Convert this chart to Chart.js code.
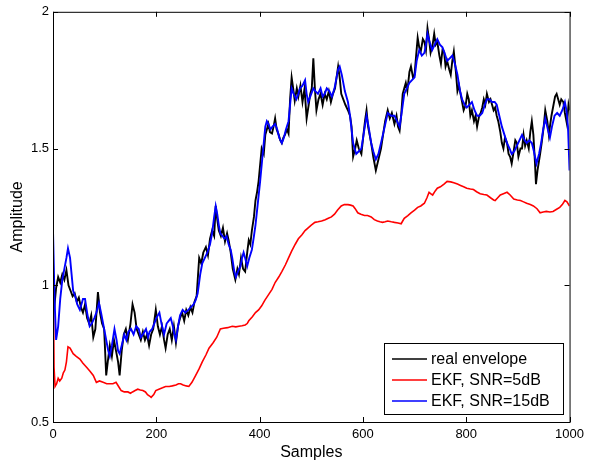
<!DOCTYPE html>
<html>
<head>
<meta charset="utf-8">
<script src="https://cdn.jsdelivr.net/npm/chart.js@4"></script>
<style>
  html,body{margin:0;padding:0;background:#fff;}
  #c{display:block;}
</style>
</head>
<body>
<canvas id="c" width="589" height="464"></canvas>
<script>
'use strict';
/* EKF envelope tracking — amplitude vs samples */

/* ── data ── */
const xTicks = [0, 200, 400, 600, 800, 1000];
const yTicks = [0.5, 1, 1.5, 2];
const labels = ['real envelope', 'EKF, SNR=5dB', 'EKF, SNR=15dB'];

const blackX = [0,3,6,10,14,18,22,26,30,34,38,42,46,50,54,58,62,66,70,74,78,82,87,91,95,99,103,106,110,114,118,122,126,129,133,137,141,145,150,154,158,162,166,170,174,178,182,186,190,194,199,203,207,211,215,218,222,226,230,234,238,242,246,250,254,258,262,266,270,274,278,283,287,291,296,300,304,308,312,315,318,321,325,329,333,337,340,344,348,353,357,360,364,368,372,376,379,382,385,389,392,395,398,401,404,408,411,414,417,420,424,427,430,433,437,440,443,446,449,453,456,459,462,465,468,472,475,479,483,487,491,495,498,501,504,507,510,514,518,522,526,530,534,538,542,546,549,552,555,558,562,566,571,575,578,581,585,588,592,597,601,604,607,610,613,616,620,625,630,635,639,643,648,652,656,661,665,668,671,674,677,680,683,686,690,693,697,700,703,706,709,712,716,719,722,725,728,731,735,738,741,744,748,751,754,757,760,763,767,770,773,776,780,783,786,789,792,795,799,802,805,808,811,815,818,821,825,828,831,834,837,840,844,847,850,853,856,859,862,866,869,872,875,879,882,885,888,891,895,898,901,905,908,911,914,917,921,924,927,930,933,935,938,943,946,950,953,957,960,962,965,969,972,975,978,981,984,988,991,995,998,1000];
const blackY = [0.95,0.93,0.99,1.03,1.01,1.04,1.02,1.055,1.0,0.98,0.96,0.97,0.94,0.955,0.92,0.90,0.93,0.88,0.86,0.89,0.81,0.84,0.975,0.90,0.86,0.84,0.67,0.72,0.78,0.74,0.80,0.76,0.72,0.67,0.76,0.82,0.84,0.80,0.86,0.93,0.90,0.84,0.82,0.80,0.83,0.80,0.82,0.78,0.82,0.84,0.91,0.85,0.82,0.85,0.80,0.77,0.82,0.84,0.80,0.85,0.79,0.85,0.88,0.90,0.87,0.91,0.89,0.92,0.90,0.94,0.96,1.10,1.08,1.12,1.14,1.11,1.17,1.20,1.18,1.29,1.24,1.20,1.18,1.21,1.16,1.19,1.165,1.12,1.06,1.02,1.06,1.04,1.10,1.06,1.05,1.12,1.165,1.15,1.20,1.25,1.31,1.34,1.38,1.44,1.50,1.48,1.55,1.57,1.59,1.56,1.555,1.58,1.61,1.57,1.55,1.53,1.52,1.54,1.55,1.57,1.555,1.68,1.76,1.72,1.675,1.72,1.69,1.73,1.67,1.72,1.61,1.66,1.70,1.72,1.83,1.72,1.64,1.68,1.70,1.66,1.70,1.68,1.71,1.67,1.70,1.72,1.76,1.80,1.76,1.70,1.68,1.66,1.64,1.62,1.58,1.47,1.50,1.53,1.50,1.48,1.55,1.60,1.64,1.58,1.55,1.52,1.47,1.42,1.46,1.50,1.55,1.60,1.64,1.61,1.63,1.59,1.62,1.58,1.565,1.62,1.70,1.72,1.74,1.71,1.78,1.80,1.76,1.77,1.84,1.905,1.87,1.855,1.90,1.89,1.86,1.94,1.90,1.85,1.88,1.92,1.88,1.89,1.84,1.81,1.86,1.855,1.80,1.82,1.79,1.77,1.82,1.855,1.78,1.71,1.73,1.70,1.67,1.64,1.66,1.70,1.68,1.62,1.64,1.60,1.62,1.58,1.62,1.63,1.65,1.68,1.66,1.70,1.67,1.68,1.66,1.64,1.65,1.62,1.60,1.56,1.52,1.50,1.54,1.52,1.48,1.47,1.445,1.48,1.53,1.52,1.47,1.50,1.50,1.55,1.51,1.53,1.50,1.56,1.60,1.55,1.45,1.37,1.42,1.48,1.52,1.58,1.64,1.60,1.55,1.58,1.62,1.66,1.69,1.70,1.68,1.66,1.68,1.67,1.63,1.59,1.66,1.64];

const redX = [0,2,4,7,10,13,17,20,23,26,29,33,39,45,52,58,65,72,78,84,90,97,104,110,116,122,127,132,138,145,150,154,159,164,169,174,179,183,187,190,195,199,205,212,218,225,231,238,243,247,252,258,263,269,276,283,289,296,302,310,317,324,330,338,347,354,360,366,372,376,379,386,392,398,404,410,417,424,430,437,443,450,456,462,469,475,482,488,494,500,507,513,520,527,533,539,545,551,558,564,571,576,581,585,590,596,603,609,616,622,628,633,638,643,648,655,661,668,674,677,680,687,693,700,706,712,719,724,728,731,735,740,744,750,757,763,770,776,783,789,795,801,808,814,820,827,834,840,847,853,856,861,866,872,879,885,892,899,905,911,917,924,930,937,943,949,955,962,968,975,981,986,991,995,1000];
const redY = [1.15,0.70,0.63,0.64,0.66,0.65,0.66,0.68,0.69,0.72,0.775,0.77,0.75,0.74,0.73,0.715,0.70,0.685,0.67,0.645,0.65,0.645,0.64,0.64,0.64,0.645,0.63,0.615,0.61,0.61,0.605,0.61,0.615,0.62,0.617,0.615,0.61,0.60,0.595,0.59,0.60,0.615,0.62,0.625,0.63,0.63,0.632,0.635,0.64,0.64,0.635,0.632,0.63,0.645,0.67,0.695,0.72,0.745,0.77,0.79,0.81,0.84,0.843,0.845,0.85,0.848,0.85,0.852,0.855,0.86,0.87,0.885,0.90,0.91,0.925,0.945,0.965,0.985,1.01,1.03,1.05,1.075,1.10,1.125,1.15,1.17,1.185,1.20,1.21,1.22,1.23,1.232,1.235,1.24,1.245,1.25,1.26,1.275,1.29,1.295,1.295,1.293,1.29,1.28,1.265,1.26,1.255,1.255,1.25,1.24,1.235,1.232,1.23,1.232,1.235,1.232,1.23,1.228,1.225,1.235,1.245,1.255,1.265,1.275,1.285,1.29,1.30,1.32,1.34,1.335,1.33,1.345,1.355,1.36,1.37,1.38,1.378,1.375,1.37,1.365,1.36,1.355,1.352,1.35,1.342,1.335,1.332,1.33,1.32,1.312,1.31,1.32,1.33,1.335,1.34,1.33,1.315,1.312,1.31,1.305,1.30,1.295,1.29,1.28,1.265,1.268,1.27,1.268,1.27,1.278,1.285,1.295,1.31,1.305,1.29];

const blueX = [0,3,6,10,14,18,22,26,29,33,36,39,43,47,52,55,58,62,66,71,75,80,84,89,93,98,103,107,110,114,119,123,126,129,133,138,142,146,151,156,161,166,170,174,180,184,187,192,196,200,206,210,215,220,224,228,232,235,238,242,246,251,256,262,267,272,276,280,285,289,294,299,304,308,312,315,318,321,324,328,332,336,340,344,347,351,354,358,363,366,369,372,376,380,385,389,392,396,401,406,411,414,417,421,425,430,434,438,443,447,451,456,459,462,466,471,475,478,483,488,491,494,498,504,508,513,518,522,526,530,535,540,545,549,552,555,559,565,568,571,575,578,581,587,592,597,602,607,611,616,620,625,630,635,641,648,654,661,666,671,675,680,685,690,695,700,704,709,714,719,722,725,729,734,739,744,749,754,758,763,768,773,778,783,788,792,797,801,806,811,816,821,826,831,836,840,845,850,855,859,864,869,874,879,884,888,893,898,903,908,913,917,922,927,931,936,941,945,949,953,958,962,966,971,976,981,986,991,994,997,1000];
const blueY = [1.20,0.95,0.80,0.85,0.95,1.02,1.06,1.10,1.135,1.10,1.04,0.98,0.96,0.93,0.91,0.93,0.95,0.95,0.90,0.85,0.86,0.88,0.90,0.935,0.90,0.85,0.80,0.76,0.74,0.78,0.84,0.80,0.76,0.75,0.78,0.82,0.80,0.83,0.84,0.82,0.85,0.84,0.81,0.82,0.84,0.81,0.83,0.84,0.86,0.88,0.90,0.86,0.82,0.86,0.87,0.88,0.85,0.82,0.80,0.85,0.89,0.91,0.90,0.91,0.92,0.93,0.945,0.97,1.04,1.08,1.10,1.12,1.15,1.19,1.25,1.29,1.26,1.22,1.19,1.18,1.17,1.18,1.15,1.13,1.10,1.05,1.03,1.05,1.07,1.10,1.12,1.10,1.07,1.10,1.13,1.18,1.22,1.29,1.38,1.48,1.58,1.60,1.59,1.57,1.58,1.59,1.57,1.54,1.52,1.54,1.57,1.60,1.66,1.72,1.70,1.68,1.70,1.72,1.73,1.75,1.70,1.67,1.69,1.72,1.71,1.70,1.72,1.69,1.70,1.72,1.71,1.69,1.72,1.76,1.79,1.80,1.77,1.71,1.69,1.67,1.62,1.57,1.52,1.48,1.49,1.50,1.56,1.62,1.58,1.52,1.49,1.46,1.48,1.52,1.57,1.63,1.62,1.62,1.60,1.58,1.63,1.70,1.72,1.74,1.75,1.76,1.82,1.86,1.84,1.85,1.88,1.92,1.89,1.86,1.88,1.90,1.88,1.87,1.85,1.82,1.83,1.84,1.81,1.77,1.71,1.68,1.66,1.65,1.66,1.67,1.64,1.62,1.62,1.63,1.66,1.68,1.68,1.67,1.67,1.66,1.62,1.58,1.55,1.52,1.50,1.48,1.49,1.51,1.53,1.55,1.53,1.52,1.53,1.52,1.49,1.445,1.48,1.52,1.57,1.61,1.57,1.54,1.58,1.62,1.63,1.62,1.64,1.67,1.64,1.58,1.42];

const pts = (xs, ys) => xs.map((x, i) => ({ x, y: ys[i] }));
const FONT = 'Liberation Sans, Arial, sans-serif';

/* ── matlab-style frame, inward ticks and boxed legend ── */
const frame = {
  id: 'frame',
  afterDraw(chart) {
    const { ctx, chartArea: a, scales: { x, y } } = chart;
    ctx.save();
    ctx.strokeStyle = '#000';
    ctx.lineWidth = 1;
    ctx.strokeRect(a.left + 0.5, a.top + 0.5, a.right - a.left, a.bottom - a.top);
    ctx.beginPath();
    xTicks.forEach(v => {
      const px = Math.round(x.getPixelForValue(v)) + 0.5;
      ctx.moveTo(px, a.bottom); ctx.lineTo(px, a.bottom - 5);
      ctx.moveTo(px, a.top); ctx.lineTo(px, a.top + 5);
    });
    yTicks.forEach(v => {
      const py = Math.round(y.getPixelForValue(v)) + 0.5;
      ctx.moveTo(a.left, py); ctx.lineTo(a.left + 5, py);
      ctx.moveTo(a.right, py); ctx.lineTo(a.right - 5, py);
    });
    ctx.stroke();

    // legend box
    const bx = 384, by = 343, bw = 179, bh = 71;
    ctx.fillStyle = '#fff';
    ctx.fillRect(bx, by, bw, bh);
    ctx.strokeRect(bx + 0.5, by + 0.5, bw, bh);
    ctx.font = '16px ' + FONT;
    ctx.textBaseline = 'middle';
    labels.forEach((lab, i) => {
      const ds = chart.data.datasets.find(d => d.label === lab);
      const ry = 359 + i * 21;
      ctx.strokeStyle = ds.borderColor;
      ctx.lineWidth = 1.5;
      ctx.beginPath(); ctx.moveTo(392, ry); ctx.lineTo(427, ry); ctx.stroke();
      ctx.fillStyle = '#000';
      ctx.fillText(lab, 431, ry + 1);
    });
    ctx.restore();
  }
};

new Chart(document.getElementById('c'), {
  type: 'line',
  data: {
    datasets: [
      { label: labels[0], data: pts(blackX, blackY), borderColor: '#000000', borderWidth: 1.9, order: 2 },
      { label: labels[1], data: pts(redX, redY), borderColor: '#ff0000', borderWidth: 1.6, order: 1 },
      { label: labels[2], data: pts(blueX, blueY), borderColor: '#0000ff', borderWidth: 1.9, order: 0 }
    ]
  },
  options: {
    responsive: false, animation: false, devicePixelRatio: 1,
    elements: { point: { radius: 0 }, line: { tension: 0 } },
    layout: { padding: { top: 11, right: 15, left: 0, bottom: 0 } },
    plugins: { legend: { display: false }, tooltip: { enabled: false } },
    scales: {
      x: {
        type: 'linear', min: 0, max: 1000,
        afterBuildTicks: s => { s.ticks = xTicks.map(v => ({ value: v })); },
        afterFit: s => { s.height = 42; },
        grid: { display: false, drawTicks: false },
        border: { display: false },
        ticks: { color: '#000', font: { family: FONT, size: 13 }, padding: 5, maxRotation: 0, callback: v => String(v) },
        title: { display: true, text: 'Samples', color: '#000', font: { family: FONT, size: 16 }, padding: { top: 2, bottom: 2 } }
      },
      y: {
        type: 'linear', min: 0.5, max: 2,
        afterBuildTicks: s => { s.ticks = yTicks.map(v => ({ value: v })); },
        afterFit: s => { s.width = 53; },
        grid: { display: false, drawTicks: false },
        border: { display: false },
        ticks: { color: '#000', font: { family: FONT, size: 13 }, padding: 4, callback: v => String(v) },
        title: { display: true, text: 'Amplitude', color: '#000', font: { family: FONT, size: 16 }, padding: { top: 8, bottom: 8 } }
      }
    }
  },
  plugins: [frame]
});
</script>
</body>
</html>
